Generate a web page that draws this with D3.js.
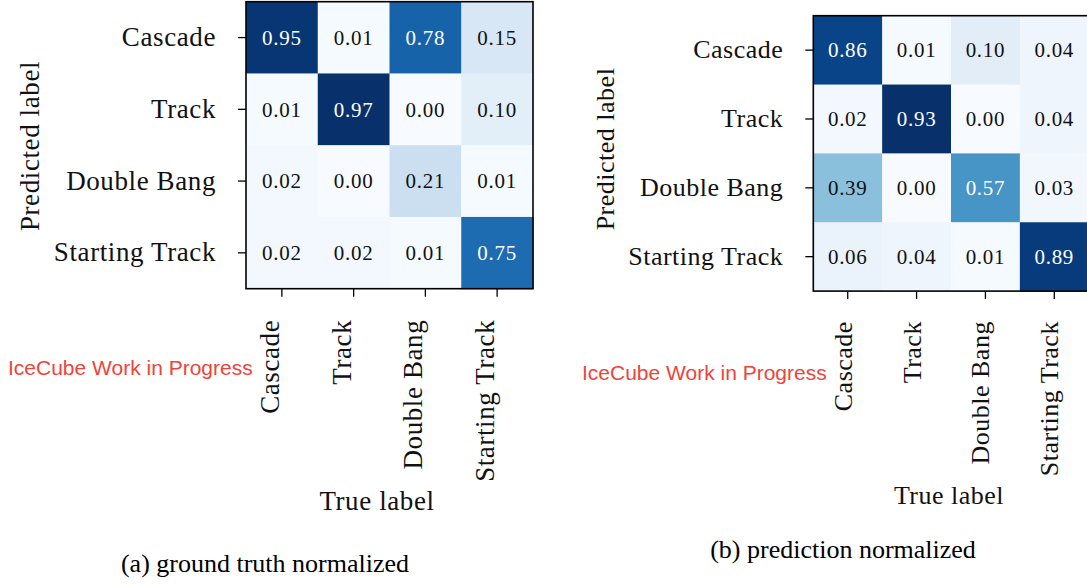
<!DOCTYPE html>
<html>
<head>
<meta charset="utf-8">
<script src="https://cdn.jsdelivr.net/npm/d3@7"></script>
<style>
  body { margin: 0; background: #fff; }
  .tick text { font-family: 'Liberation Serif', serif; fill: #111; }
  .tick line { stroke: #000; stroke-width: 1.3; }
</style>
</head>
<body>
<div id="chart"></div>
<script>
// class names, shared by both matrices
var classes = ['Cascade', 'Track', 'Double Bang', 'Starting Track']
// rows = predicted label, columns = true label
var gtValues = [
  [0.95, 0.01, 0.78, 0.15],
  [0.01, 0.97, 0.00, 0.10],
  [0.02, 0.00, 0.21, 0.01],
  [0.02, 0.02, 0.01, 0.75]
]
var predValues = [
  [0.86, 0.01, 0.10, 0.04],
  [0.02, 0.93, 0.00, 0.04],
  [0.39, 0.00, 0.57, 0.03],
  [0.06, 0.04, 0.01, 0.89]
]
var captions = ['(a) ground truth normalized', '(b) prediction normalized']
var watermark = 'IceCube Work in Progress'

var width = 1087
var height = 586

var svg = d3.select('#chart').append('svg')
  .attr('width', width)
  .attr('height', height)

var panels = [
  { values: gtValues, caption: captions[0], left: 246, top: 1.7, size: 287,
    font: 27, ls: 0.6, xlabTop: 31, xlabShift: -3, titleX: 30, titleY: 146,
    trueX: 377, trueY: 510, capX: 265, capY: 572, wmX: 8, wmY: 375 },
  { values: predValues, caption: captions[1], left: 813.3, top: 15.7, size: 275.4,
    font: 26, ls: 0.5, xlabTop: 30, xlabShift: 4, titleX: 605, titleY: 149,
    trueX: 949, trueY: 504, capX: 843, capY: 558, wmX: 582, wmY: 380 }
]

panels.forEach(function(p) {
  var g = svg.append('g')
  var x = d3.scaleBand().domain(classes).range([p.left, p.left + p.size])
  var y = d3.scaleBand().domain(classes).range([p.top, p.top + p.size])
  var max = d3.max(p.values, function(r) { return d3.max(r) })
  var color = d3.scaleSequential(d3.interpolateBlues).domain([0, max])

  var cells = []
  p.values.forEach(function(row, i) {
    row.forEach(function(v, j) {
      cells.push({ pred: classes[i], truth: classes[j], value: v })
    })
  })

  g.selectAll('rect.cell')
    .data(cells)
    .enter().append('rect')
      .attr('class', 'cell')
      .attr('x', function(d) { return x(d.truth) })
      .attr('y', function(d) { return y(d.pred) })
      .attr('width', x.bandwidth() + 0.5)
      .attr('height', y.bandwidth() + 0.5)
      .attr('fill', function(d) { return color(d.value) })

  g.selectAll('text.val')
    .data(cells)
    .enter().append('text')
      .attr('class', 'val')
      .attr('x', function(d) { return x(d.truth) + x.bandwidth() / 2 })
      .attr('y', function(d) { return y(d.pred) + y.bandwidth() / 2 })
      .attr('dy', '0.35em')
      .attr('text-anchor', 'middle')
      .style('font-family', "'Liberation Serif', serif")
      .style('font-size', '21px')
      .style('letter-spacing', '0.7px')
      .attr('fill', function(d) { return d.value > max / 2 ? '#fff' : '#111' })
      .text(function(d) { return d.value.toFixed(2) })

  // frame
  g.append('rect')
    .attr('x', p.left).attr('y', p.top)
    .attr('width', p.size).attr('height', p.size)
    .attr('fill', 'none').attr('stroke', '#000').attr('stroke-width', 1.6)

  var yAxis = g.append('g')
    .attr('transform', 'translate(' + p.left + ',0)')
    .call(d3.axisLeft(y).tickSize(8).tickPadding(22))
  yAxis.select('.domain').remove()
  yAxis.selectAll('text')
    .style('font-size', p.font + 'px')
    .style('letter-spacing', p.ls + 'px')

  var xAxis = g.append('g')
    .attr('transform', 'translate(0,' + (p.top + p.size) + ')')
    .call(d3.axisBottom(x).tickSize(8))
  xAxis.select('.domain').remove()
  xAxis.selectAll('text')
    .style('font-size', p.font + 'px')
    .style('letter-spacing', p.ls + 'px')
    .attr('text-anchor', 'end')
    .attr('transform', 'rotate(-90)')
    .attr('x', -p.xlabTop)
    .attr('y', p.xlabShift)
    .attr('dy', 0)

  g.append('text')
    .attr('transform', 'translate(' + p.titleX + ',' + p.titleY + ') rotate(-90)')
    .attr('text-anchor', 'middle')
    .attr('dy', '0.35em')
    .style('font-family', "'Liberation Serif', serif")
    .style('font-size', p.font + 'px')
    .style('letter-spacing', p.ls + 'px')
    .attr('fill', '#111')
    .text('Predicted label')

  g.append('text')
    .attr('x', p.trueX).attr('y', p.trueY)
    .attr('text-anchor', 'middle')
    .style('font-family', "'Liberation Serif', serif")
    .style('font-size', p.font + 'px')
    .style('letter-spacing', p.ls + 'px')
    .attr('fill', '#111')
    .text('True label')

  g.append('text')
    .attr('x', p.capX).attr('y', p.capY)
    .attr('text-anchor', 'middle')
    .style('font-family', "'Liberation Serif', serif")
    .style('font-size', '26px')
    .attr('fill', '#000')
    .text(p.caption)

  g.append('text')
    .attr('x', p.wmX).attr('y', p.wmY)
    .style('font-family', "'Liberation Sans', Arial, sans-serif")
    .style('font-size', '21px')
    .attr('fill', '#f0433a')
    .text(watermark)
})
</script>
</body>
</html>
